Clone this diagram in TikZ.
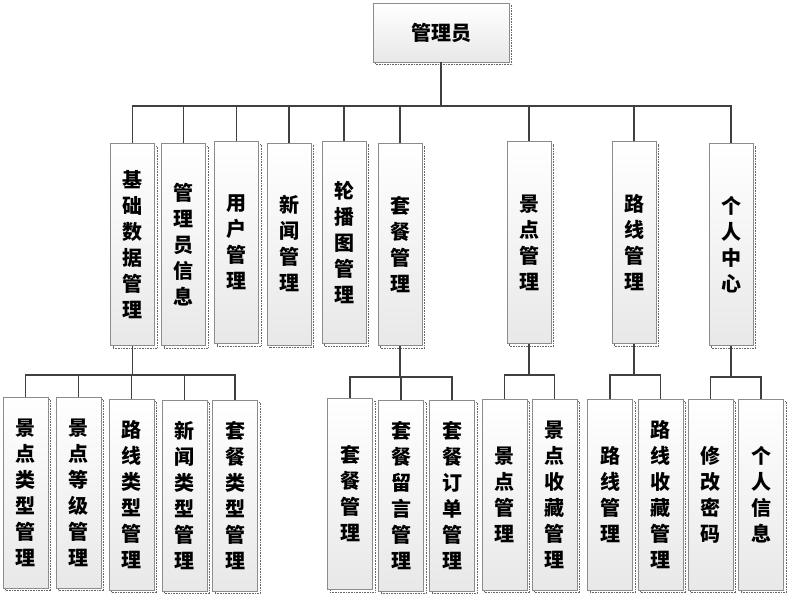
\documentclass[tikz,border=0pt]{standalone}
\usepackage{fontspec}
\newfontfamily\cjk{Noto Sans CJK SC}
\usetikzlibrary{shadows}
\tikzset{
  boxnode/.style={draw=black!45, line width=0.6pt, top color=white, bottom color=black!9,
    inner sep=0pt, align=center, font=\cjk\bfseries\fontsize{20}{26}\selectfont,
    drop shadow={shadow xshift=2.5pt, shadow yshift=-2.5pt, fill=none, draw=black!60, densely dotted, opacity=1}},
  rootbox/.style={boxnode, minimum width=136pt, minimum height=59pt},
  lvtwo/.style={boxnode, minimum width=44pt, minimum height=202pt},
  lvthree/.style={boxnode, minimum width=45pt, minimum height=191pt},
  conn/.style={draw=black!75, line width=1.1pt}
}
\begin{document}
\begin{tikzpicture}[x=1pt, y=-1pt]
\useasboundingbox (0,0) rectangle (789,597);
% connectors (drawn first)
\coordinate (topbus) at (0,106);
\coordinate (busA) at (0,375);
\coordinate (busB) at (0,377);
\coordinate (busC) at (0,375);
\coordinate (busD) at (0,375);
\coordinate (busE) at (0,377);

\node[rootbox] (root) at (441,32.5) {管理员};

\node[lvtwo] (b1) at (132.5,244.5) {基\\础\\数\\据\\管\\理};
\node[lvtwo] (b2) at (183.5,244.5) {管\\理\\员\\信\\息};
\node[lvtwo] (b3) at (236.5,242.5) {用\\户\\管\\理};
\node[lvtwo] (b4) at (289,244) {新\\闻\\管\\理};
\node[lvtwo] (b5) at (344,242.5) {轮\\播\\图\\管\\理};
\node[lvtwo] (b6) at (400,244.5) {套\\餐\\管\\理};
\node[lvtwo] (b7) at (529,242.5) {景\\点\\管\\理};
\node[lvtwo] (b8) at (634,242.5) {路\\线\\管\\理};
\node[lvtwo] (b9) at (731,244.5) {个\\人\\中\\心};

\node[lvthree] (c1) at (25.5,492.5) {景\\点\\类\\型\\管\\理};
\node[lvthree] (c2) at (78.5,492.5) {景\\点\\等\\级\\管\\理};
\node[lvthree] (c3) at (131.5,494.5) {路\\线\\类\\型\\管\\理};
\node[lvthree] (c4) at (184.5,495.5) {新\\闻\\类\\型\\管\\理};
\node[lvthree] (c5) at (235,495.5) {套\\餐\\类\\型\\管\\理};

\node[lvthree] (d1) at (350,494) {套\\餐\\管\\理};
\node[lvthree] (d2) at (401,495.5) {套\\餐\\留\\言\\管\\理};
\node[lvthree] (d3) at (452,495.5) {套\\餐\\订\\单\\管\\理};

\node[lvthree] (e1) at (504.5,494.5) {景\\点\\管\\理};
\node[lvthree] (e2) at (554.5,494.5) {景\\点\\收\\藏\\管\\理};

\node[lvthree] (f1) at (610,494.5) {路\\线\\管\\理};
\node[lvthree] (f2) at (660.5,494.5) {路\\线\\收\\藏\\管\\理};

\node[lvthree] (g1) at (710.5,494.5) {修\\改\\密\\码};
\node[lvthree] (g2) at (761,494.5) {个\\人\\信\\息};

% top level
\draw[conn] (root.south) -- (root.south |- topbus);
\draw[conn] (b1.north) -- (b1.north |- topbus) -- (b9.north |- topbus) -- (b9.north);
\foreach \n in {b2,b3,b4,b5,b6,b7,b8}
  \draw[conn] (\n.north) -- (\n.north |- topbus);

% group A
\draw[conn] (b1.south) -- (b1.south |- busA);
\draw[conn] (c1.north) -- (c1.north |- busA) -- (c5.north |- busA) -- (c5.north);
\foreach \n in {c2,c3,c4}
  \draw[conn] (\n.north) -- (\n.north |- busA);

% group B
\draw[conn] (b6.south) -- (b6.south |- busB);
\draw[conn] (d1.north) -- (d1.north |- busB) -- (d3.north |- busB) -- (d3.north);
\draw[conn] (d2.north) -- (d2.north |- busB);

% group C
\draw[conn] (b7.south) -- (b7.south |- busC);
\draw[conn] (e1.north) -- (e1.north |- busC) -- (e2.north |- busC) -- (e2.north);

% group D
\draw[conn] (b8.south) -- (b8.south |- busD);
\draw[conn] (f1.north) -- (f1.north |- busD) -- (f2.north |- busD) -- (f2.north);

% group E
\draw[conn] (b9.south) -- (b9.south |- busE);
\draw[conn] (g1.north) -- (g1.north |- busE) -- (g2.north |- busE) -- (g2.north);
\end{tikzpicture}
\end{document}
